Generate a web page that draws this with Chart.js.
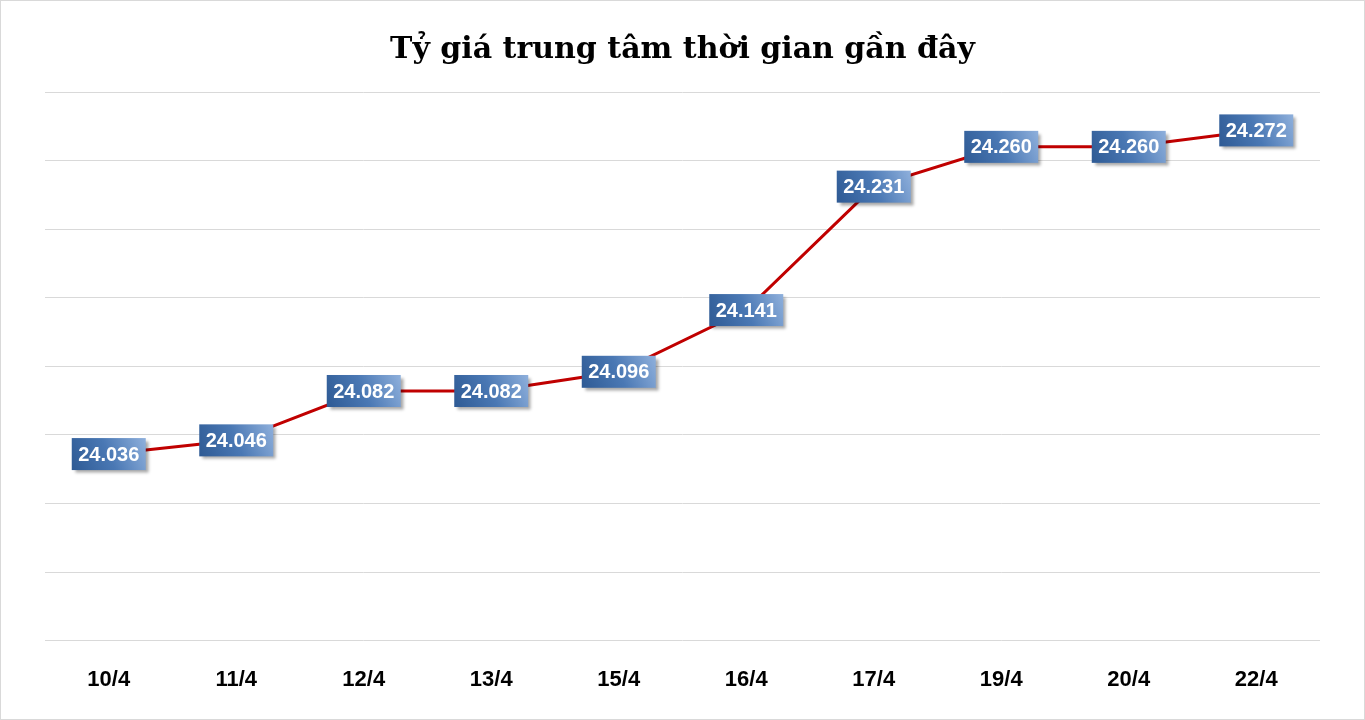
<!DOCTYPE html>
<html><head><meta charset="utf-8">
<script src="https://cdn.jsdelivr.net/npm/chart.js@4"></script>
<style>html,body{margin:0;background:#fff}#w{position:absolute;left:0;top:0;width:1363px;height:718px;border:1px solid #d9d9d9}</style>
</head><body><div id="w"><canvas id="c"></canvas></div>
<script>
const categories=["10/4","11/4","12/4","13/4","15/4","16/4","17/4","19/4","20/4","22/4"];
const rates=[24.036,24.046,24.082,24.082,24.096,24.141,24.231,24.260,24.260,24.272];
const labelPlugin={id:'lbl',afterDatasetsDraw(chart){
 const ctx=chart.ctx;const meta=chart.getDatasetMeta(0);
 ctx.save();ctx.font='bold 20px "Liberation Sans", Arial';ctx.textAlign='center';ctx.textBaseline='middle';
 meta.data.forEach((p,i)=>{
  const t=rates[i].toFixed(3);const w=74,h=32;const x=p.x-w/2,y=p.y-h/2;
  ctx.shadowColor='rgba(0,0,0,0.35)';ctx.shadowOffsetX=3;ctx.shadowOffsetY=3;ctx.shadowBlur=3;
  const g=ctx.createLinearGradient(x,y+h,x+w,y);g.addColorStop(0,'#2e5a94');g.addColorStop(0.5,'#4a78b4');g.addColorStop(1,'#8fb0dc');
  ctx.fillStyle=g;ctx.fillRect(x,y,w,h);
  ctx.shadowColor='transparent';ctx.fillStyle='#fff';ctx.fillText(t,p.x,p.y+1);
 });ctx.restore();}};
new Chart(document.getElementById('c'),{type:'line',
 data:{labels:categories,datasets:[{data:rates,borderColor:'#c00000',borderWidth:3,pointRadius:0,tension:0}]},
 options:{responsive:true,maintainAspectRatio:false,animation:false,
  layout:{padding:{left:44,right:44,top:0,bottom:8}},
  plugins:{legend:{display:false},tooltip:{enabled:false},
   title:{display:true,text:'Tỷ giá trung tâm thời gian gần đây',color:'#000',font:{family:'"DejaVu Serif", "Liberation Serif", serif',size:30,weight:'bold'},padding:{top:31,bottom:24}}},
  scales:{x:{offset:true,grid:{display:false},border:{display:false},ticks:{color:'#000',font:{family:'"Liberation Sans", Arial',size:22,weight:'bold'},padding:18}},
   y:{min:23.9,max:24.3,ticks:{display:false,stepSize:0.05},grid:{color:'#d9d9d9',drawTicks:false},border:{display:false}}}},
 plugins:[labelPlugin]});
</script></body></html>
